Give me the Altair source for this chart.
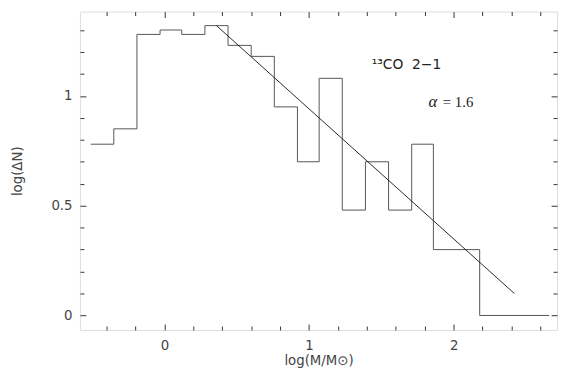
import altair as alt
import pandas as pd

# histogram bin edges (log M) and heights (log dN)
edges = [-0.51, -0.35, -0.19, -0.03, 0.12, 0.28, 0.44, 0.60, 0.76, 0.92,
         1.07, 1.23, 1.39, 1.55, 1.71, 1.86, 2.18, 2.66]
counts = [0.78, 0.85, 1.28, 1.30, 1.28, 1.32, 1.23, 1.18, 0.95, 0.70,
          1.08, 0.48, 0.70, 0.48, 0.78, 0.30, 0.0]

# power-law fit line end points
fit_x = [0.36, 2.42]
fit_y = [1.32, 0.10]

# tick positions
x_ticks = [-0.4, -0.2, 0, 0.2, 0.4, 0.6, 0.8, 1, 1.2, 1.4, 1.6, 1.8, 2, 2.2, 2.4, 2.6]
y_ticks = [0, 0.1, 0.2, 0.3, 0.4, 0.5, 0.6, 0.7, 0.8, 0.9, 1, 1.1, 1.2, 1.3]

# annotations
ann_text = ["¹³CO\u00a0 2−1", "α", "= 1.6"]
ann_x = [1.434, 1.826, 1.925]
ann_y = [1.123, 0.948, 0.948]

hist_df = pd.DataFrame({"x": edges, "y": counts + [counts[-1]]})
fit_df = pd.DataFrame({"x": fit_x, "y": fit_y})

W, H = 484, 323
xscale = alt.Scale(domain=[-0.584, 2.715], nice=False, zero=False)
yscale = alt.Scale(domain=[-0.066, 1.384], nice=False, zero=False)

major_x = "abs(datum.value - round(datum.value)) < 0.001"
major_y = "abs(datum.value*2 - round(datum.value*2)) < 0.001"


def tsize(test):
    return {"condition": {"test": test, "value": -6}, "value": -4}


FONT = "DejaVu Sans"
TXT = "#444"
TICK = "#333"

x_bottom = alt.Axis(orient="bottom", values=x_ticks, domain=False, grid=False,
                    tickSize=tsize(major_x), tickColor=TICK, tickWidth=1,
                    labelExpr=f"({major_x}) ? '' + datum.value : ''",
                    labelFont=FONT, labelFontSize=13.5, labelColor=TXT,
                    labelPadding=15, labelFlush=False, labelOverlap=False,
                    title="log(M/M⊙)", titleFont=FONT, titleFontSize=13.5,
                    titleFontWeight="normal", titleColor=TXT,
                    titleX=W / 2, titleY=24, titleAlign="center", titleBaseline="top")
y_left = alt.Axis(orient="left", values=y_ticks, domain=False, grid=False,
                  tickSize=tsize(major_y), tickColor=TICK, tickWidth=1,
                  labelExpr=f"({major_y}) ? '' + datum.value : ''",
                  labelFont=FONT, labelFontSize=13.5, labelColor=TXT,
                  labelPadding=14, labelFlush=False, labelOverlap=False,
                  title="log(ΔN)", titleFont=FONT, titleFontSize=13.5,
                  titleFontWeight="normal", titleColor=TXT,
                  titleX=-56, titleY=H / 2, titleAngle=270, titleAlign="center",
                  titleBaseline="bottom")
x_top = alt.Axis(orient="top", values=x_ticks, domain=False, grid=False,
                 tickSize=tsize(major_x), tickColor=TICK, tickWidth=1,
                 labels=False, title="")
y_right = alt.Axis(orient="right", values=y_ticks, domain=False, grid=False,
                   tickSize=tsize(major_y), tickColor=TICK, tickWidth=1,
                   labels=False, title="")

hist = alt.Chart(hist_df).mark_line(interpolate="step-after", color="#555",
                                    strokeWidth=1).encode(
    x=alt.X("x:Q", scale=xscale, axis=x_bottom),
    y=alt.Y("y:Q", scale=yscale, axis=y_left),
)

fit = alt.Chart(fit_df).mark_line(color="#111", strokeWidth=0.9).encode(
    x=alt.X("x:Q", scale=xscale, axis=x_top),
    y=alt.Y("y:Q", scale=yscale, axis=y_right),
)


def text_layer(i, font, size, style):
    df = pd.DataFrame({"t": [ann_text[i]], "x": [ann_x[i]], "y": [ann_y[i]]})
    return alt.Chart(df).mark_text(align="left", baseline="alphabetic", color="#222",
                                   font=font, fontSize=size, fontStyle=style).encode(
        x=alt.X("x:Q", scale=xscale, axis=None),
        y=alt.Y("y:Q", scale=yscale, axis=None),
        text="t:N",
    )


t1 = text_layer(0, "DejaVu Sans", 14, "normal")
t2 = text_layer(1, "Liberation Serif", 17, "italic")
t3 = text_layer(2, "Liberation Serif", 15, "normal")

chart = alt.layer(hist, fit, t1, t2, t3).resolve_axis(x="independent", y="independent").properties(
    width=W, height=H, autosize="none",
    padding={"left": 73, "top": 1, "right": 3, "bottom": 40},
).configure_view(stroke="#333", strokeWidth=1).configure(font=FONT)

chart.save("out.html", embed_options={"renderer": "svg", "actions": False})
